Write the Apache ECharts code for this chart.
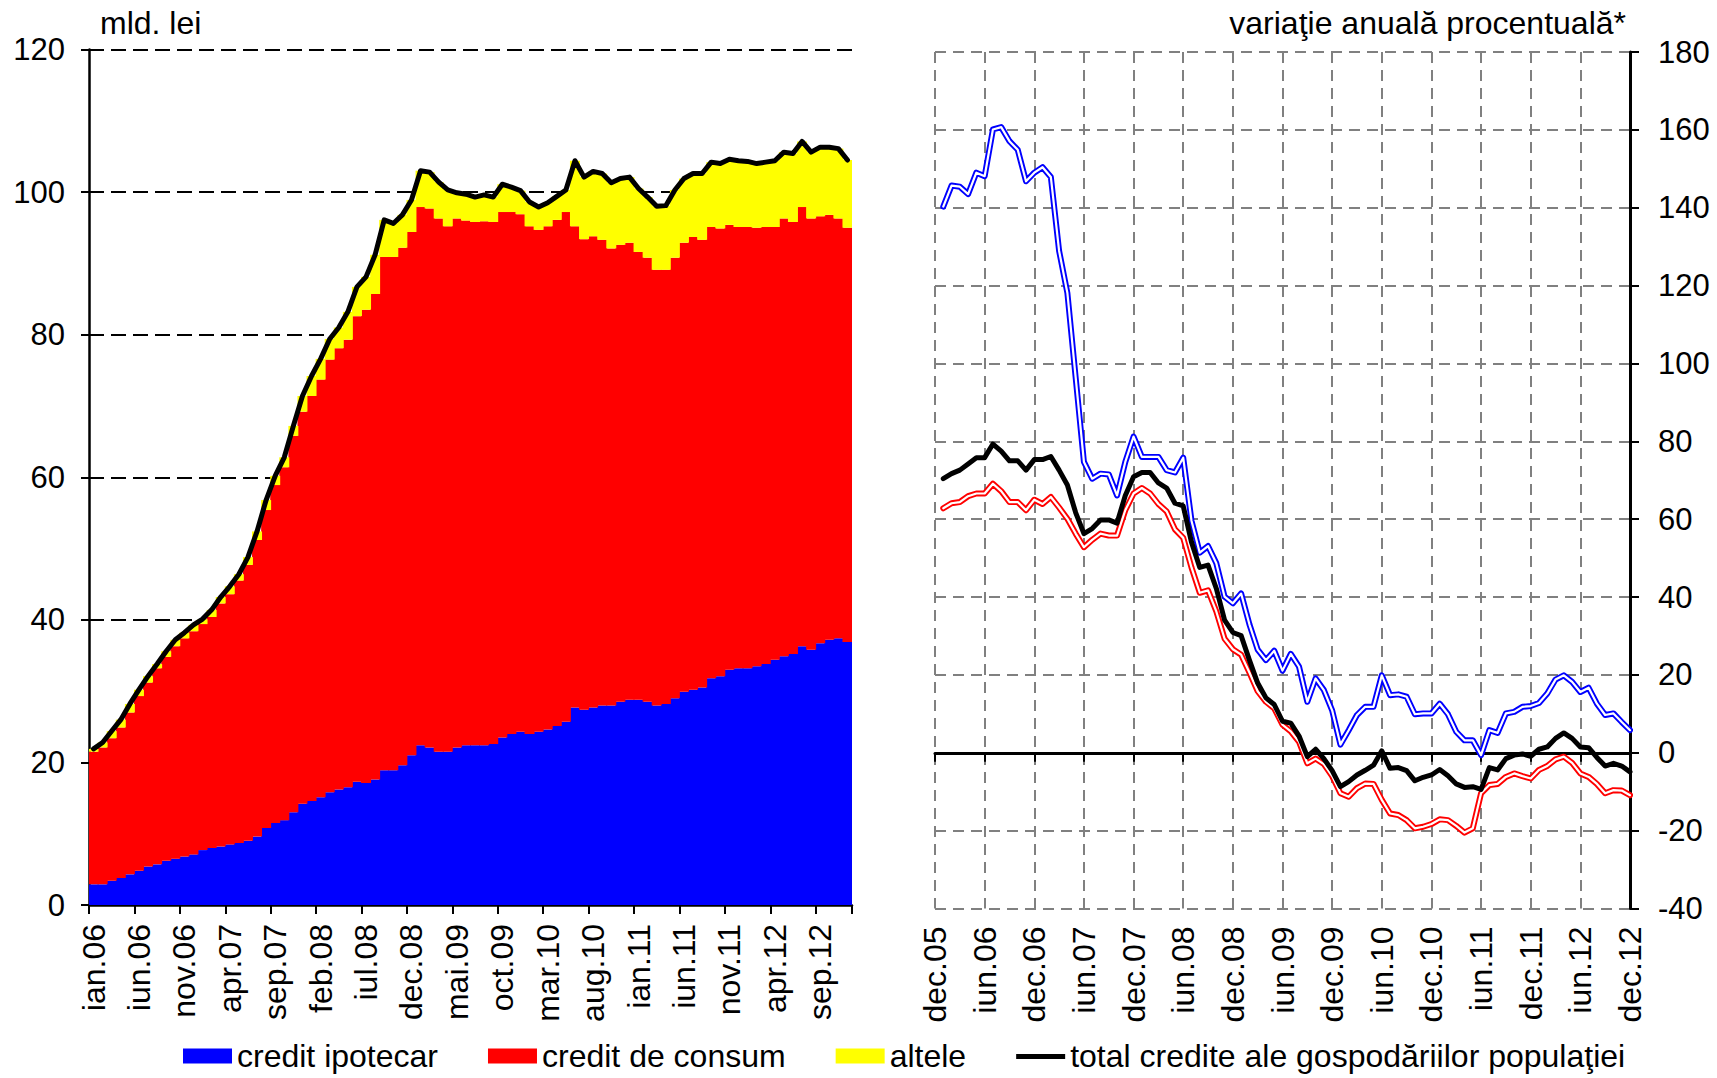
<!DOCTYPE html>
<html>
<head>
<meta charset="utf-8">
<script src="https://cdn.jsdelivr.net/npm/echarts@6/dist/echarts.min.js"></script>
<style>
html,body{margin:0;padding:0;background:#fff;}
#c{width:1717px;height:1078px;}
</style>
</head>
<body>
<div id="c"></div>
<script>
// ---- categories / tick labels ----
const monthNames = ['ian','feb','mar','apr','mai','iun','iul','aug','sep','oct','nov','dec'];
const years = ['06','07','08','09','10','11','12'];
const leftCategories = [];
years.forEach(y => monthNames.forEach(m => leftCategories.push(m + '.' + y)));
const rightCategories = ['dec.05'].concat(leftCategories);

// ---- left chart: stock of loans (mld. lei) ----
const ipotecar = [2.9,2.9,3.4,3.8,4.3,4.8,5.4,5.7,6.2,6.5,6.8,7.1,7.7,8.0,8.2,8.5,8.7,9.0,9.6,10.8,11.5,11.9,13.0,14.2,14.6,15.1,15.8,16.2,16.5,17.3,17.1,17.6,18.9,18.9,19.6,21.0,22.4,22.1,21.5,21.5,22.1,22.4,22.4,22.4,22.6,23.5,24.0,24.3,24.0,24.3,24.6,25.1,25.7,27.7,27.4,27.7,28.0,28.0,28.5,28.8,28.8,28.5,28.0,28.2,29.0,29.9,30.2,30.5,31.8,32.1,33.0,33.2,33.2,33.5,33.8,34.4,34.9,35.2,36.3,35.8,36.7,37.2,37.4,36.9];
const consum = [18.6,19.2,20.0,21.1,22.7,24.5,25.8,27.5,28.6,29.8,30.6,31.3,31.7,32.4,34.1,35.1,36.8,38.7,41.6,44.6,47.4,49.5,52.8,55.0,56.8,58.6,60.7,61.9,62.8,65.3,66.4,68.1,72.0,72.0,72.6,73.4,75.5,75.6,74.8,73.7,74.2,73.6,73.4,73.5,73.2,73.7,73.2,72.6,71.2,70.4,70.6,71.0,71.5,67.5,66.0,66.1,65.3,64.1,64.1,64.1,62.8,62.3,61.1,60.9,61.8,63.0,63.5,62.8,63.3,62.8,62.4,61.9,61.9,61.5,61.3,60.7,61.4,60.6,61.6,60.5,59.9,59.6,58.9,58.1];
const altele = [0.4,0.7,1.0,1.1,1.2,0.9,0.9,0.6,0.8,0.9,0.8,0.9,0.7,1.0,0.9,1.1,0.9,1.1,1.2,1.4,1.3,1.4,1.4,2.2,2.8,2.9,2.9,2.9,3.9,4.1,4.6,5.5,5.2,4.7,4.6,4.5,5.1,5.1,5.1,5.1,3.6,3.7,3.5,3.7,3.5,3.9,3.5,3.3,3.4,3.2,3.3,3.3,3.1,9.2,8.7,9.1,9.3,9.2,9.3,9.2,8.9,8.5,8.9,9.0,9.5,9.0,8.9,9.3,9.1,9.1,9.2,9.3,9.2,9.0,9.1,9.3,9.3,9.6,9.2,9.3,9.7,9.5,9.8,9.5];
const totalStock = [21.9,22.8,24.4,26.0,28.2,30.2,32.1,33.8,35.6,37.2,38.2,39.3,40.1,41.4,43.2,44.7,46.4,48.8,52.4,56.8,60.2,62.8,67.2,71.4,74.2,76.6,79.4,81.0,83.2,86.7,88.1,91.2,96.1,95.6,96.8,98.9,103.0,102.8,101.4,100.3,99.9,99.7,99.3,99.6,99.3,101.1,100.7,100.2,98.6,97.9,98.5,99.4,100.3,104.4,102.1,102.9,102.6,101.3,101.9,102.1,100.5,99.3,98.0,98.1,100.3,101.9,102.6,102.6,104.2,104.0,104.6,104.4,104.3,104.0,104.2,104.4,105.6,105.4,107.1,105.6,106.3,106.3,106.1,104.5];

// ---- right chart: annual % change ----
const ipotecarPct = [null,140.3,145.7,145.4,143.5,149.0,148.1,160.1,160.7,157.1,154.9,146.8,149.0,150.4,147.9,128.9,118.1,96.4,74.7,70.4,71.7,71.5,66.1,74.7,81.2,76.0,76.0,76.0,72.6,72.0,75.8,59.6,51.4,53.1,48.7,40.1,38.4,40.9,33.0,26.5,23.8,26.2,21.1,25.4,22.1,13.1,19.1,16.1,10.9,2.1,5.8,9.7,11.8,11.8,19.9,14.8,15.0,14.4,9.9,10.1,10.1,12.6,9.9,5.4,3.2,3.2,-0.6,5.8,5.1,10.1,10.5,11.8,12.0,12.8,15.2,18.8,19.9,18.2,15.6,16.7,12.6,9.7,10.1,7.9,5.8];
const consumPct = [null,62.8,64.1,64.4,65.9,66.6,66.6,69.1,67.2,64.4,64.4,62.3,65.0,63.9,65.7,63.0,60.1,56.3,52.8,54.7,56.3,55.8,55.8,62.3,66.6,68.0,66.6,63.9,62.0,57.4,55.2,47.6,41.1,41.7,36.3,29.3,26.6,25.2,20.6,15.8,13.1,11.4,7.2,5.5,2.8,-2.7,-1.5,-2.9,-6.0,-10.4,-11.3,-9.1,-7.9,-8.0,-12.1,-15.6,-16.0,-17.3,-19.4,-19.0,-18.3,-17.1,-17.3,-18.8,-20.5,-19.4,-10.4,-8.3,-8.0,-6.2,-5.3,-6.0,-6.6,-4.4,-3.4,-1.7,-1.0,-2.6,-5.3,-6.2,-8.0,-10.4,-9.6,-9.7,-10.9];
const totalPct = [null,70.4,71.7,72.6,74.2,75.8,75.8,79.3,77.5,75.0,75.0,72.6,75.3,75.3,76.1,72.6,68.8,61.7,56.3,57.6,59.8,59.8,59.0,66.1,70.9,72.0,72.0,69.3,68.0,64.1,63.4,54.1,47.6,48.2,42.2,34.1,30.9,30.1,23.8,17.9,14.1,12.4,8.1,7.6,4.3,-1.0,0.9,-1.5,-4.6,-8.7,-7.4,-5.7,-4.5,-3.2,0.5,-4.0,-3.8,-4.6,-7.2,-6.3,-5.7,-4.3,-5.9,-8.0,-8.9,-8.7,-9.4,-3.8,-4.4,-1.5,-0.6,-0.3,-0.9,0.9,1.5,3.7,5.1,3.7,1.5,1.3,-1.2,-3.4,-2.7,-3.4,-4.9];

const N_IPO = 'credit ipotecar';
const N_CON = 'credit de consum';
const N_ALT = 'altele';
const N_TOT = 'total credite ale gospodăriilor populaţiei';
const FONT = '"Liberation Sans", Arial, sans-serif';

const chart = echarts.init(document.getElementById('c'), null, {renderer: 'svg'});

const leftDash = {color: '#000', width: 2, type: [15, 7]};
const rightDash = {color: '#808080', width: 2, type: [11, 7]};

const option = {
  animation: false,
  backgroundColor: '#fff',
  textStyle: {fontFamily: FONT, color: '#000'},
  graphic: [
    {type: 'text', left: 100, top: 7, style: {text: 'mld. lei', font: '32px ' + FONT, fill: '#000'}},
    {type: 'text', right: 91, top: 7, style: {text: 'variaţie anuală procentuală*', font: '32px ' + FONT, fill: '#000'}}
  ],
  legend: {
    left: 178, top: 1035, itemWidth: 49, itemHeight: 15, itemGap: 50,
    selectedMode: false,
    textStyle: {fontSize: 32, color: '#000', fontFamily: FONT},
    data: [
      {name: N_IPO, icon: 'rect'},
      {name: N_CON, icon: 'rect'},
      {name: N_ALT, icon: 'rect'},
      {name: N_TOT, icon: 'path://M0,0 M0,15 M0,5.5 L49,5.5 L49,10.5 L0,10.5 Z'}
    ]
  },
  grid: [
    {left: 89, top: 49.5, width: 763, height: 855.5},
    {left: 935, top: 52, width: 695, height: 856.5}
  ],
  xAxis: [
    {
      gridIndex: 0, type: 'category', data: leftCategories, boundaryGap: true,
      axisLine: {show: true, lineStyle: {color: '#000', width: 2.5}},
      axisTick: {show: true, interval: 4, length: 9, lineStyle: {color: '#000', width: 2}},
      axisLabel: {interval: 4, rotate: 90, fontSize: 32, margin: 19, color: '#000', fontFamily: FONT},
      splitLine: {show: false}
    },
    {
      gridIndex: 1, type: 'category', data: rightCategories, boundaryGap: false, position: 'bottom',
      axisLine: {show: false, onZero: false},
      axisTick: {show: false},
      axisLabel: {interval: 5, rotate: 90, fontSize: 32, margin: 18, color: '#000', fontFamily: FONT},
      splitLine: {show: true, interval: 5, lineStyle: rightDash}
    },
    {
      gridIndex: 1, type: 'category', data: rightCategories, boundaryGap: false, position: 'top',
      axisLine: {show: true, onZero: true, lineStyle: {color: '#000', width: 3}},
      axisTick: {show: true, inside: true, interval: 5, length: 9, lineStyle: {color: '#000', width: 2}},
      axisLabel: {show: false},
      splitLine: {show: false}
    }
  ],
  yAxis: [
    {
      gridIndex: 0, type: 'value', min: 0, max: 120, interval: 20,
      axisLine: {show: true, lineStyle: {color: '#000', width: 2.5}},
      axisTick: {show: true, length: 8, lineStyle: {color: '#000', width: 2}},
      axisLabel: {fontSize: 31, margin: 24, color: '#000', fontFamily: FONT},
      splitLine: {show: true, lineStyle: leftDash}
    },
    {
      gridIndex: 1, type: 'value', position: 'right', min: -40, max: 180, interval: 20,
      axisLine: {show: true, lineStyle: {color: '#000', width: 3}},
      axisTick: {show: true, length: 9, lineStyle: {color: '#000', width: 2}},
      axisLabel: {fontSize: 31, margin: 28, color: '#000', fontFamily: FONT},
      splitLine: {show: true, lineStyle: rightDash}
    }
  ],
  series: [
    {name: N_IPO, type: 'bar', xAxisIndex: 0, yAxisIndex: 0, stack: 'stock', barWidth: '110%',
     itemStyle: {color: '#0000FF'}, data: ipotecar},
    {name: N_CON, type: 'bar', xAxisIndex: 0, yAxisIndex: 0, stack: 'stock', barWidth: '110%',
     itemStyle: {color: '#FF0000'}, data: consum},
    {name: N_ALT, type: 'bar', xAxisIndex: 0, yAxisIndex: 0, stack: 'stock', barWidth: '110%',
     itemStyle: {color: '#FFFF00'}, data: altele},
    {name: N_TOT, type: 'line', xAxisIndex: 0, yAxisIndex: 0, data: totalStock, symbol: 'none',
     itemStyle: {color: '#000'}, lineStyle: {color: '#000', width: 5, join: 'round', cap: 'round'}, z: 5},

    {name: N_IPO, type: 'line', xAxisIndex: 1, yAxisIndex: 1, data: ipotecarPct, symbol: 'none',
     itemStyle: {color: '#0000FF'}, lineStyle: {color: '#0000FF', width: 6, join: 'round', cap: 'round'}, z: 5},
    {name: 'ipotecar_inner', type: 'line', xAxisIndex: 1, yAxisIndex: 1, data: ipotecarPct, symbol: 'none',
     lineStyle: {color: '#FFFFFF', width: 2.2, join: 'round', cap: 'round'}, z: 5, silent: true},
    {name: N_CON, type: 'line', xAxisIndex: 1, yAxisIndex: 1, data: consumPct, symbol: 'none',
     itemStyle: {color: '#FF0000'}, lineStyle: {color: '#FF0000', width: 6, join: 'round', cap: 'round'}, z: 5},
    {name: 'consum_inner', type: 'line', xAxisIndex: 1, yAxisIndex: 1, data: consumPct, symbol: 'none',
     lineStyle: {color: '#FFFFFF', width: 2.2, join: 'round', cap: 'round'}, z: 5, silent: true},
    {name: N_TOT, type: 'line', xAxisIndex: 1, yAxisIndex: 1, data: totalPct, symbol: 'none',
     itemStyle: {color: '#000'}, lineStyle: {color: '#000', width: 5, join: 'round', cap: 'round'}, z: 5}
  ]
};
chart.setOption(option);
</script>
</body>
</html>
